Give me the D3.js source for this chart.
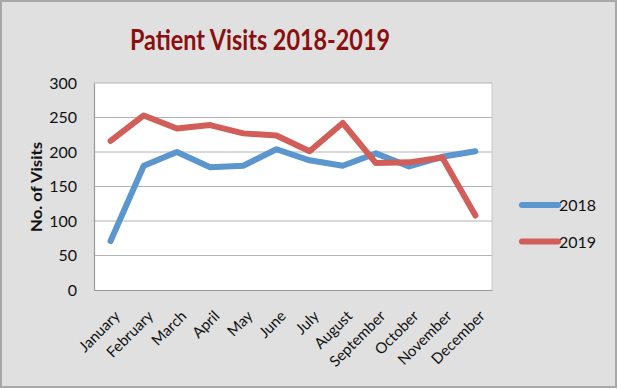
<!DOCTYPE html>
<html>
<head>
<meta charset="utf-8">
<script src="https://cdn.jsdelivr.net/npm/d3@7"></script>
<style>
  body { margin: 0; background: #fff; }
  svg { display: block; font-family: Lato, "Open Sans", sans-serif; }
</style>
</head>
<body>
<script>
// chart data
const months = ["January", "February", "March", "April", "May", "June",
  "July", "August", "September", "October", "November", "December"];
const visits2018 = [71, 180, 200, 178, 180, 204, 188, 180, 198, 179, 193, 201];
const visits2019 = [216, 253, 234, 239, 227, 224, 201, 242, 184, 185, 192, 108];
const yTicks = [0, 50, 100, 150, 200, 250, 300];
const seriesNames = ["2018", "2019"];
const seriesColors = ["#5b96cf", "#d15e59"];

const width = 618, height = 389;
const plot = { left: 94, top: 83, right: 492, bottom: 290 };

const svg = d3.select("body").append("svg")
  .attr("width", width)
  .attr("height", height);

svg.append("rect")
  .attr("x", 1).attr("y", 1)
  .attr("width", width - 3).attr("height", height - 3)
  .attr("fill", "#e0e0e0")
  .attr("stroke", "#a8a8a8")
  .attr("stroke-width", 2);

svg.append("text")
  .attr("x", 260).attr("y", 50)
  .attr("text-anchor", "middle")
  .attr("fill", "#8a0f0f")
  .attr("font-weight", "bold")
  .attr("font-size", 29)
  .attr("textLength", 260)
  .attr("lengthAdjust", "spacingAndGlyphs")
  .text("Patient Visits 2018-2019");

const x = d3.scalePoint().domain(months)
  .range([plot.left, plot.right]).padding(0.5);
const y = d3.scaleLinear().domain([0, 300]).range([plot.bottom, plot.top]);

svg.append("rect")
  .attr("x", plot.left).attr("y", plot.top)
  .attr("width", plot.right - plot.left)
  .attr("height", plot.bottom - plot.top)
  .attr("fill", "#fff");

// gridlines
svg.append("g").selectAll("line")
  .data(yTicks.filter(d => d > 0))
  .enter().append("line")
  .attr("x1", plot.left).attr("x2", plot.right)
  .attr("y1", d => y(d)).attr("y2", d => y(d))
  .attr("stroke", "#b3b3b3")
  .attr("stroke-width", 1.2);

svg.append("line")
  .attr("x1", plot.right).attr("x2", plot.right)
  .attr("y1", plot.top).attr("y2", plot.bottom)
  .attr("stroke", "#c8c8c8");

// axes
const yAxis = svg.append("g")
  .attr("transform", `translate(${plot.left},0)`)
  .call(d3.axisLeft(y).tickValues(yTicks).tickSize(0).tickPadding(17));
yAxis.select(".domain").attr("stroke", "#999").attr("stroke-width", 1.2);
yAxis.selectAll("text")
  .attr("font-family", "Lato, sans-serif")
  .attr("font-size", 16)
  .attr("fill", "#111");

const xAxis = svg.append("g")
  .attr("transform", `translate(0,${plot.bottom})`)
  .call(d3.axisBottom(x).tickSize(0).tickPadding(0));
xAxis.select(".domain").attr("stroke", "#999").attr("stroke-width", 1.2);
xAxis.selectAll("text")
  .attr("font-family", "Lato, sans-serif")
  .attr("font-size", 15)
  .attr("fill", "#111")
  .attr("text-anchor", "end")
  .attr("dy", 0)
  .attr("transform", "translate(10,27) rotate(-45)");

svg.append("text")
  .attr("transform", "translate(42,187) rotate(-90)")
  .attr("text-anchor", "middle")
  .attr("font-weight", "bold")
  .attr("font-size", 16)
  .attr("textLength", 90)
  .attr("lengthAdjust", "spacingAndGlyphs")
  .attr("fill", "#111")
  .text("No. of Visits");

// lines
const line = d3.line()
  .x((d, i) => x(months[i]))
  .y(d => y(d));

[visits2018, visits2019].forEach((vals, k) => {
  svg.append("path")
    .datum(vals)
    .attr("d", line)
    .attr("fill", "none")
    .attr("stroke", seriesColors[k])
    .attr("stroke-width", 6)
    .attr("stroke-linejoin", "round")
    .attr("stroke-linecap", "round");
});

// legend
const legend = svg.append("g").attr("transform", "translate(522,205)");
seriesNames.forEach((name, k) => {
  const g = legend.append("g").attr("transform", `translate(0,${k * 36.5})`);
  g.append("line")
    .attr("x1", 0).attr("x2", 36)
    .attr("stroke", seriesColors[k])
    .attr("stroke-width", 6)
    .attr("stroke-linecap", "round");
  g.append("text")
    .attr("x", 37).attr("y", 6)
    .attr("font-size", 16)
    .attr("fill", "#111")
    .text(name);
});
</script>
</body>
</html>
